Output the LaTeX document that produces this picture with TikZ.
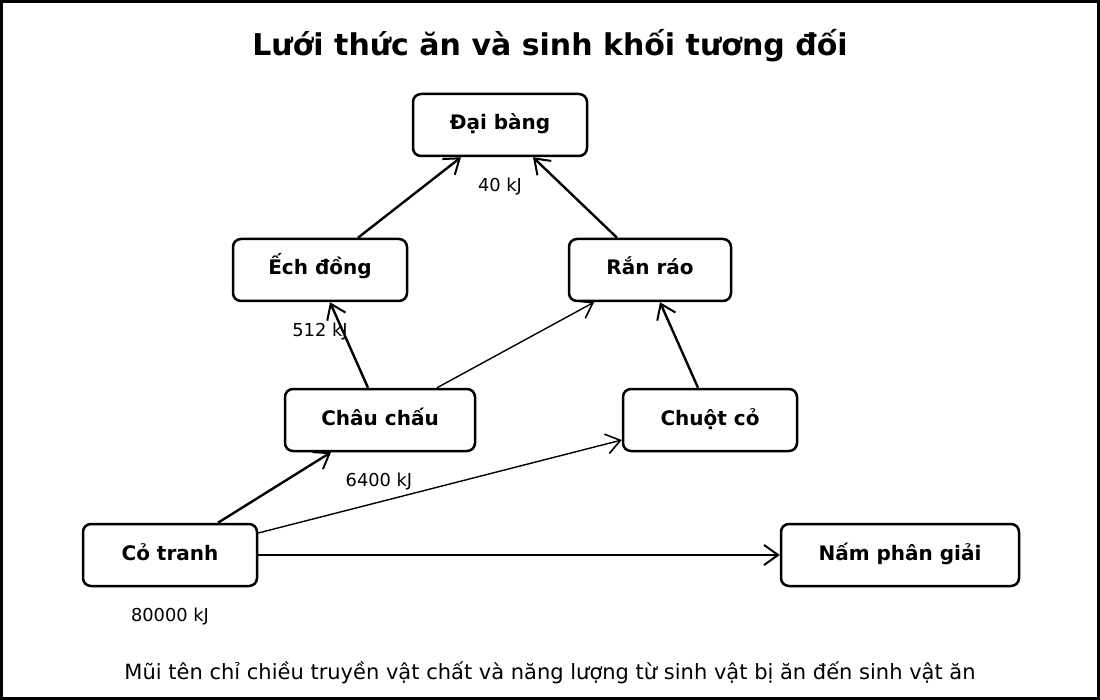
\documentclass[tikz,border=0pt]{standalone}
\usepackage{fontspec}
\setmainfont{DejaVu Sans}
\usetikzlibrary{arrows.meta}
\tikzset{
  box/.style={draw, line width=2.5pt, rounded corners=8pt, inner sep=0pt,
    text height=14pt, text depth=4pt,
    font=\fontsize{20}{23}\selectfont\bfseries, anchor=center},
  flow/.style={line width=2.4pt, -{Straight Barb[length=14pt,width=20pt,line width=2pt]}},
  thinflow/.style={line width=1.4pt, -{Straight Barb[length=14pt,width=20pt,line width=1.6pt]}},
  lbl/.style={font=\fontsize{17.8}{21}\selectfont, inner sep=0pt},
}
\begin{document}
\begin{tikzpicture}[x=1pt,y=-1pt]
\useasboundingbox (0,0) rectangle (1100,700);
\draw[line width=3pt] (1.5,1.5) rectangle (1098.5,698.5);
\node[font=\fontsize{30}{34}\selectfont\bfseries] (title) at (550,46) {Lưới thức ăn và sinh khối tương đối};

\node[box, minimum width=174pt, minimum height=62pt] (dai) at (500,125) {Đại bàng};
\node[box, minimum width=174pt, minimum height=62pt] (ech) at (320,270) {Ếch đồng};
\node[box, minimum width=162pt, minimum height=62pt] (ran) at (650,270) {Rắn ráo};
\node[box, minimum width=190pt, minimum height=62pt] (chau) at (380,420) {Châu chấu};
\node[box, minimum width=174pt, minimum height=62pt] (chuot) at (710,420) {Chuột cỏ};
\node[box, minimum width=174pt, minimum height=62pt] (co) at (170,555) {Cỏ tranh};
\node[box, minimum width=238pt, minimum height=62pt] (nam) at (900,555) {Nấm phân giải};

\draw[flow] ([xshift=48pt]co.north) -- ([xshift=-49pt]chau.south);
\draw[thinflow] ([yshift=22pt]co.east) -- ([yshift=-20pt]chuot.west);
\draw[flow] (co.east) -- (nam.west);
\draw[flow] ([xshift=-12pt]chau.north) -- ([xshift=10pt]ech.south);
\draw[thinflow] ([xshift=57pt]chau.north) -- ([xshift=-56pt]ran.south);
\draw[flow] ([xshift=-12pt]chuot.north) -- ([xshift=10pt]ran.south);
\draw[flow] ([xshift=38pt]ech.north) -- ([xshift=-39pt]dai.south);
\draw[flow] ([xshift=-33pt]ran.north) -- ([xshift=33pt]dai.south);

\node[lbl] (l40) at (500,186.5) {40 kJ};
\node[lbl] (l512) at (320,331.5) {512 kJ};
\node[lbl] (l6400) at (379,481.5) {6400 kJ};
\node[lbl] (l80000) at (170,616.5) {80000 kJ};

\node[font=\fontsize{21}{24}\selectfont] (note) at (550,673) {Mũi tên chỉ chiều truyền vật chất và năng lượng từ sinh vật bị ăn đến sinh vật ăn};
\end{tikzpicture}
\end{document}
